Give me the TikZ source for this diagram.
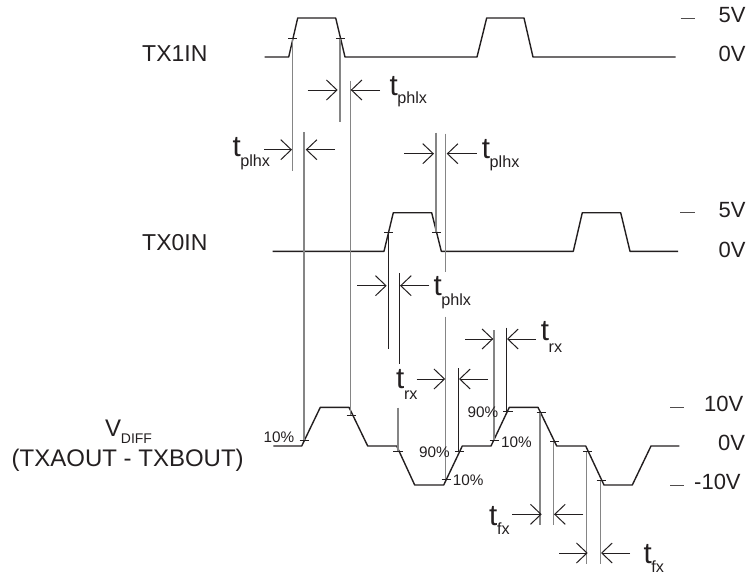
\documentclass[tikz,border=0pt]{standalone}
\usepackage{fontspec}
\setmainfont{Liberation Sans}
\usetikzlibrary{arrows.meta}
\definecolor{inkline}{HTML}{231F20}
\definecolor{greyline}{HTML}{858585}
\tikzset{
    wave/.style={inkline,line width=1.4pt,line join=round},
    tick/.style={inkline,line width=1pt},
    guide/.style={greyline,line width=1.25pt},
    guidedark/.style={inkline,line width=0.8pt},
    dim/.style={inkline,line width=1pt,->},
    level/.style={inkline!80,line width=0.9pt},
    sig/.style={anchor=base west,inner sep=0pt,text=inkline,font=\fontsize{23}{23}\selectfont},
    volt/.style={anchor=base west,inner sep=0pt,text=inkline,font=\fontsize{22}{22}\selectfont},
    pct/.style={anchor=base west,inner sep=0pt,text=inkline,font=\fontsize{15.3}{15.3}\selectfont},
    tbig/.style={anchor=base west,inner sep=0pt,text=inkline,font=\fontsize{29.5}{29.5}\selectfont},
    tsub/.style={anchor=base west,inner sep=0pt,text=inkline,font=\fontsize{16.2}{16.2}\selectfont},
}
% name, x, y, subscript, drop of the subscript
\newcommand{\tlabel}[5]{
    \node[tbig] (#1) at (#2,#3) {t};
    \node[tsub] (#1sub) at ([xshift=7.8pt,yshift=-#5pt]#1.base west) {#4};
}
\begin{document}
\begin{tikzpicture}[x=1pt,y=-1pt,>={Straight Barb[length=10.5pt,width=20pt]}]
    \useasboundingbox (0,0) rectangle (750,579);

    % signal names
    \node[sig] (txone) at (142,61.7) {TX1IN};
    \node[sig] (txzero) at (142,250) {TX0IN};
    \node[sig,font=\fontsize{24}{24}\selectfont] (vdiff) at (105,436) {V};
    \node[tsub,font=\fontsize{14}{14}\selectfont] (vdiffsub) at (120.7,443.3) {DIFF};
    \node[sig,font=\fontsize{24}{24}\selectfont] (txdiff) at (11.5,466) {(TXAOUT - TXBOUT)};

    % TX1IN
    \draw[wave] (264.7,57) -- (288.7,57) -- (297.7,18) -- (335.7,18) -- (345,57) -- (477,57)
        -- (486.7,18) -- (524,18) -- (533,57) -- (675.7,57);
    % TX0IN
    \draw[wave] (272.7,251.3) -- (384,251.3) -- (393.3,212.7) -- (431.7,212.7) -- (441.3,251.3) -- (573.3,251.3)
        -- (582.3,212.7) -- (620.7,212.7) -- (630,251.3) -- (678,251.3);
    % VDIFF
    \draw[wave] (273.3,446) -- (301.7,446) -- (320.3,407.3) -- (349,407.3) -- (367.7,446) -- (396.7,446)
        -- (414.7,485) -- (443.7,485) -- (462.3,446) -- (491,446) -- (509.3,407.3) -- (538,407.3)
        -- (556.7,446) -- (585.7,446) -- (604,485) -- (632.3,485) -- (651,446) -- (679.3,446);

    % vertical guides
    \foreach \gx/\gtop/\gbot in {292.7/38/171, 340/38/122, 304/132/440.7, 350.7/80.7/415.7,
        436/132.7/232, 445.7/133.7/271.7, 445.7/316.7/479.7, 398/407.7/451.7, 494/330/440.3,
        540/412.7/525, 553.7/441/525, 586.7/451.7/564, 600.7/480/564}
        \draw[guide] (\gx,\gtop) -- (\gx,\gbot);
    \foreach \gx/\gtop/\gbot in {388.3/232/348.7, 399.3/273.3/363.7, 506.3/327.7/411.7, 458.3/368/451.7}
        \draw[guidedark] (\gx,\gtop) -- (\gx,\gbot);

    % ticks on the edges
    \foreach \tx/\ty in {292.7/38, 340.5/38, 388.6/232, 436.4/232, 304.3/440.7, 351.3/415.7, 398/451.7,
        446.3/479.7, 459.5/451.7, 494.3/440.3, 508/411.7, 541.3/412.7, 554.7/441, 587.8/451.7, 601.3/480}
        \draw[tick] (\tx-4.6,\ty) -- (\tx+4.6,\ty);

    % arrow pairs
    \foreach \ay/\al/\ar/\bl/\br in {90/307.7/337.7/380/350.7, 149.7/264/292/335/305.7, 153.7/404/434/476.7/446.7,
        285.7/357/386.7/429.3/400, 339/465/493.3/536/507, 379/416.7/445.2/488/459,
        514.3/512.3/541.7/583.3/554, 553/559/587.7/630/601}{
        \draw[dim] (\al,\ay) -- (\ar,\ay);
        \draw[dim] (\bl,\ay) -- (\br,\ay);
    }

    % text at the arrows
    \tlabel{tphlxa}{389.3}{95}{phlx}{8.3}
    \tlabel{tplhxa}{232.3}{156.7}{plhx}{9.3}
    \tlabel{tplhxb}{481.7}{158.3}{plhx}{9.3}
    \tlabel{tphlxb}{433.3}{295}{phlx}{10}
    \tlabel{trxa}{540.7}{340.7}{rx}{11.6}
    \tlabel{trxb}{396}{388.3}{rx}{10.7}
    \tlabel{tfxa}{489}{525}{fx}{9.3}
    \tlabel{tfxb}{643.3}{563.3}{fx}{9}

    % percent marks
    \node[pct] (pcta) at (263.3,442.3) {10\%};
    \node[pct] (pctb) at (419,457.3) {90\%};
    \node[pct] (pctc) at (452.7,485.7) {10\%};
    \node[pct] (pctd) at (467.3,417.3) {90\%};
    \node[pct] (pcte) at (501,447.3) {10\%};

    % voltage levels
    \draw[level] (680.7,18.3) -- (695,18.3);
    \draw[level] (680,212.3) -- (695,212.3);
    \draw[level] (670,407.3) -- (684,407.3);
    \draw[level] (670,485) -- (684,485);
    \node[volt] (vfivea) at (718.5,22.7) {5V};
    \node[volt] (vzeroa) at (718.5,61.7) {0V};
    \node[volt] (vfiveb) at (718.5,217.7) {5V};
    \node[volt] (vzerob) at (718.5,257.3) {0V};
    \node[volt] (vten) at (704,411.7) {10V};
    \node[volt] (vzeroc) at (718,450) {0V};
    \node[volt] (vmten) at (694,489.3) {-10V};
\end{tikzpicture}
\end{document}
